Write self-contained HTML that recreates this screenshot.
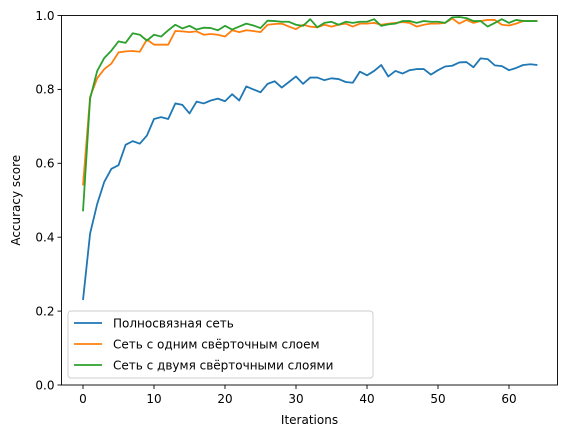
<!DOCTYPE html>
<html><head><meta charset="utf-8"><style>
body{margin:0;background:#fff}
svg{display:block;font-family:"DejaVu Sans","Liberation Sans",sans-serif}
</style></head><body>
<svg id="chart" width="567" height="438">
<rect x="0" y="0" width="567" height="438" fill="#fff"/>
<g id="plot"></g>
</svg>
<script>
const iterations = Array.from({length:65},(_,i)=>i);
const fcNet = [0.23,0.41,0.49,0.55,0.585,0.595,0.65,0.66,0.653,0.675,0.72,0.725,0.72,0.762,0.758,0.735,0.767,0.762,0.77,0.775,0.768,0.787,0.77,0.808,0.80,0.792,0.815,0.822,0.805,0.82,0.835,0.815,0.832,0.832,0.825,0.83,0.828,0.82,0.818,0.848,0.838,0.85,0.866,0.835,0.85,0.843,0.852,0.855,0.855,0.84,0.852,0.862,0.864,0.873,0.874,0.86,0.884,0.882,0.865,0.863,0.852,0.858,0.866,0.868,0.866];
const conv1 = [0.54,0.78,0.83,0.855,0.87,0.9,0.903,0.904,0.902,0.935,0.921,0.921,0.921,0.958,0.957,0.955,0.957,0.948,0.95,0.948,0.943,0.96,0.955,0.96,0.958,0.955,0.975,0.977,0.978,0.97,0.963,0.975,0.97,0.968,0.975,0.97,0.975,0.978,0.97,0.978,0.978,0.98,0.975,0.978,0.98,0.982,0.98,0.97,0.975,0.978,0.978,0.98,0.992,0.978,0.988,0.98,0.985,0.988,0.988,0.975,0.973,0.978,0.985,0.985,0.985];
const conv2 = [0.47,0.775,0.85,0.885,0.905,0.93,0.926,0.952,0.948,0.932,0.948,0.943,0.96,0.975,0.965,0.972,0.962,0.967,0.966,0.96,0.972,0.962,0.97,0.978,0.973,0.966,0.986,0.985,0.983,0.983,0.975,0.972,0.99,0.968,0.98,0.983,0.975,0.983,0.98,0.983,0.983,0.99,0.972,0.976,0.978,0.985,0.985,0.98,0.985,0.983,0.983,0.98,0.995,0.996,0.993,0.985,0.985,0.97,0.98,0.99,0.98,0.988,0.985,0.985,0.985];
const seriesNames = ["Полносвязная сеть","Сеть с одним свёрточным слоем","Сеть с двумя свёрточными слоями"];
const xTicks = [0,10,20,30,40,50,60];
const yTicks = [0.0,0.2,0.4,0.6,0.8,1.0];

const L=61.5,R=557.5,T=15.5,B=385;
const X=v=>83+(v)*(509-83)/60;
const Y=v=>B-v*(B-T);
const NS="http://www.w3.org/2000/svg";
const g=document.getElementById('plot');
function mk(t,a,p){const e=document.createElementNS(NS,t);for(const k in a)e.setAttribute(k,a[k]);(p||g).appendChild(e);return e;}
const colors=["#1f77b4","#ff7f0e","#2ca02c"];
[fcNet,conv1,conv2].forEach((s,i)=>{
  const p=mk('polyline',{points:s.map((v,j)=>X(iterations[j])+','+Y(v)).join(' '),fill:'none',stroke:colors[i],'stroke-width':1.8,'stroke-linejoin':'round'});
  
  
});
const frame=mk('rect',{x:L,y:T,width:R-L,height:B-T,fill:'none',stroke:'#000','stroke-width':0.9});


xTicks.forEach(v=>{
  mk('line',{x1:X(v),x2:X(v),y1:B,y2:B+4,stroke:'#000','stroke-width':0.9});
  const t=mk('text',{x:X(v),y:B+18,'text-anchor':'middle','font-size':12,fill:'#000'});t.textContent=v;
  
  
});
yTicks.forEach(v=>{
  mk('line',{x1:L-4,x2:L,y1:Y(v),y2:Y(v),stroke:'#000','stroke-width':0.9});
  const t=mk('text',{x:L-7,y:Y(v)+4.3,'text-anchor':'end','font-size':12,fill:'#000'});t.textContent=v.toFixed(1);
  
  
});
const xt=mk('text',{x:(L+R)/2,y:424,'text-anchor':'middle','font-size':12});xt.textContent='Iterations';


const yt=mk('text',{x:0,y:0,'text-anchor':'middle','font-size':12,transform:'translate(20,'+((T+B)/2)+') rotate(-90)'});yt.textContent='Accuracy score';


const lg=mk('g',{});


mk('rect',{x:68,y:311,width:305,height:67,rx:3,fill:'#fff','fill-opacity':0.8,stroke:'#ccc','stroke-width':0.9},lg);
seriesNames.forEach((n,i)=>{
  const y=323+i*21;
  mk('line',{x1:74,x2:102,y1:y,y2:y,stroke:colors[i],'stroke-width':1.8},lg);
  const t=mk('text',{x:113,y:y+4.3,'font-size':12},lg);t.textContent=n;
  
  
});
</script>
</body></html>
